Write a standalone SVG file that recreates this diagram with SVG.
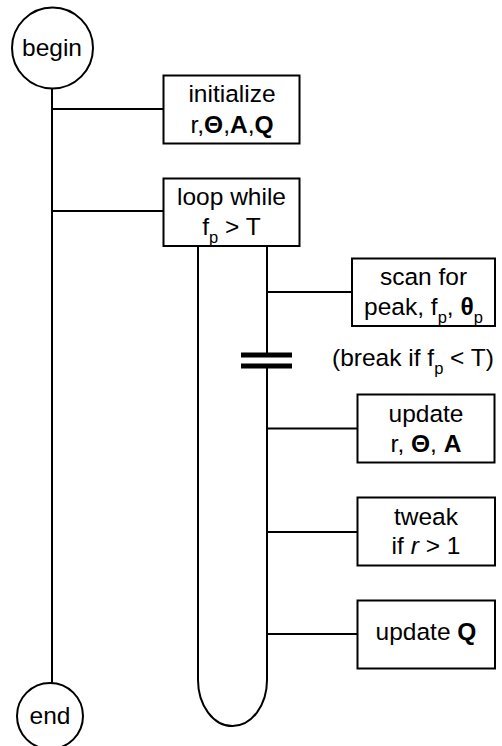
<svg xmlns="http://www.w3.org/2000/svg" width="502" height="746" viewBox="0 0 502 746">
<style>
  .ln{fill:none;stroke:#000;stroke-width:2}
  .bx{fill:#fff;stroke:#000;stroke-width:2}
  .bar{fill:none;stroke:#000;stroke-width:5}
  text{font-family:"Liberation Sans",Arial,Helvetica,sans-serif;font-size:24.5px;fill:#000;text-anchor:middle}
  .sub{font-size:16.5px}
  .b{font-weight:bold}
  .i{font-style:italic}
  .lft{text-anchor:start}
</style>
<rect width="502" height="746" fill="#fff"/>
<g id="connectors">
  <line class="ln" x1="52" y1="89" x2="52" y2="683"/>
  <line class="ln" x1="52" y1="109" x2="163" y2="109"/>
  <line class="ln" x1="52" y1="211" x2="163" y2="211"/>
  <path class="ln" d="M198,246 L198,680 A34.5,46 0 0 0 267,680 L267,366"/>
  <line class="ln" x1="267" y1="246" x2="267" y2="355"/>
  <line class="bar" x1="241" y1="355" x2="292" y2="355"/>
  <line class="bar" x1="241" y1="366" x2="292" y2="366"/>
  <line class="ln" x1="267" y1="292" x2="352" y2="292"/>
  <line class="ln" x1="267" y1="428.5" x2="357" y2="428.5"/>
  <line class="ln" x1="267" y1="532" x2="357" y2="532"/>
  <line class="ln" x1="267" y1="634" x2="357" y2="634"/>
</g>
<g id="begin">
  <circle class="bx" cx="52.5" cy="48" r="40.5"/>
  <text x="52" y="56">begin</text>
</g>
<g id="end">
  <circle class="bx" cx="50" cy="716" r="33"/>
  <text x="50" y="723.5">end</text>
</g>
<g id="initialize">
  <rect class="bx" x="163.5" y="75.5" width="136" height="68"/>
  <text x="232" y="102">initialize</text>
  <text x="232" y="133">r,<tspan class="b">Θ</tspan>,<tspan class="b">A</tspan>,<tspan class="b">Q</tspan></text>
</g>
<g id="loop">
  <rect class="bx" x="163.5" y="178.5" width="136" height="67.5"/>
  <text x="231.5" y="205">loop while</text>
  <text x="231.5" y="235">f<tspan class="sub" dy="8">p</tspan><tspan dy="-8"> &gt; T</tspan></text>
</g>
<g id="scan">
  <rect class="bx" x="352" y="258.5" width="143" height="67.5"/>
  <text x="423.5" y="285">scan for</text>
  <text x="423.5" y="315">peak, f<tspan class="sub" dy="8">p</tspan><tspan dy="-8">, </tspan><tspan class="b">θ</tspan><tspan class="sub" dy="8">p</tspan></text>
</g>
<g id="break">
  <text class="lft" x="332" y="366">(break if f<tspan class="sub" dy="8">p</tspan><tspan dy="-8"> &lt; T)</tspan></text>
</g>
<g id="update1">
  <rect class="bx" x="357.5" y="394.5" width="137" height="68"/>
  <text x="426" y="421.5">update</text>
  <text x="426" y="451.5">r, <tspan class="b">Θ</tspan>, <tspan class="b">A</tspan></text>
</g>
<g id="tweak">
  <rect class="bx" x="357.5" y="497.5" width="137.5" height="68"/>
  <text x="426" y="524.5">tweak</text>
  <text x="426" y="553.5">if <tspan class="i">r</tspan> &gt; 1</text>
</g>
<g id="updateQ">
  <rect class="bx" x="357.5" y="600.5" width="137.5" height="68"/>
  <text x="426" y="640">update <tspan class="b">Q</tspan></text>
</g>
</svg>
